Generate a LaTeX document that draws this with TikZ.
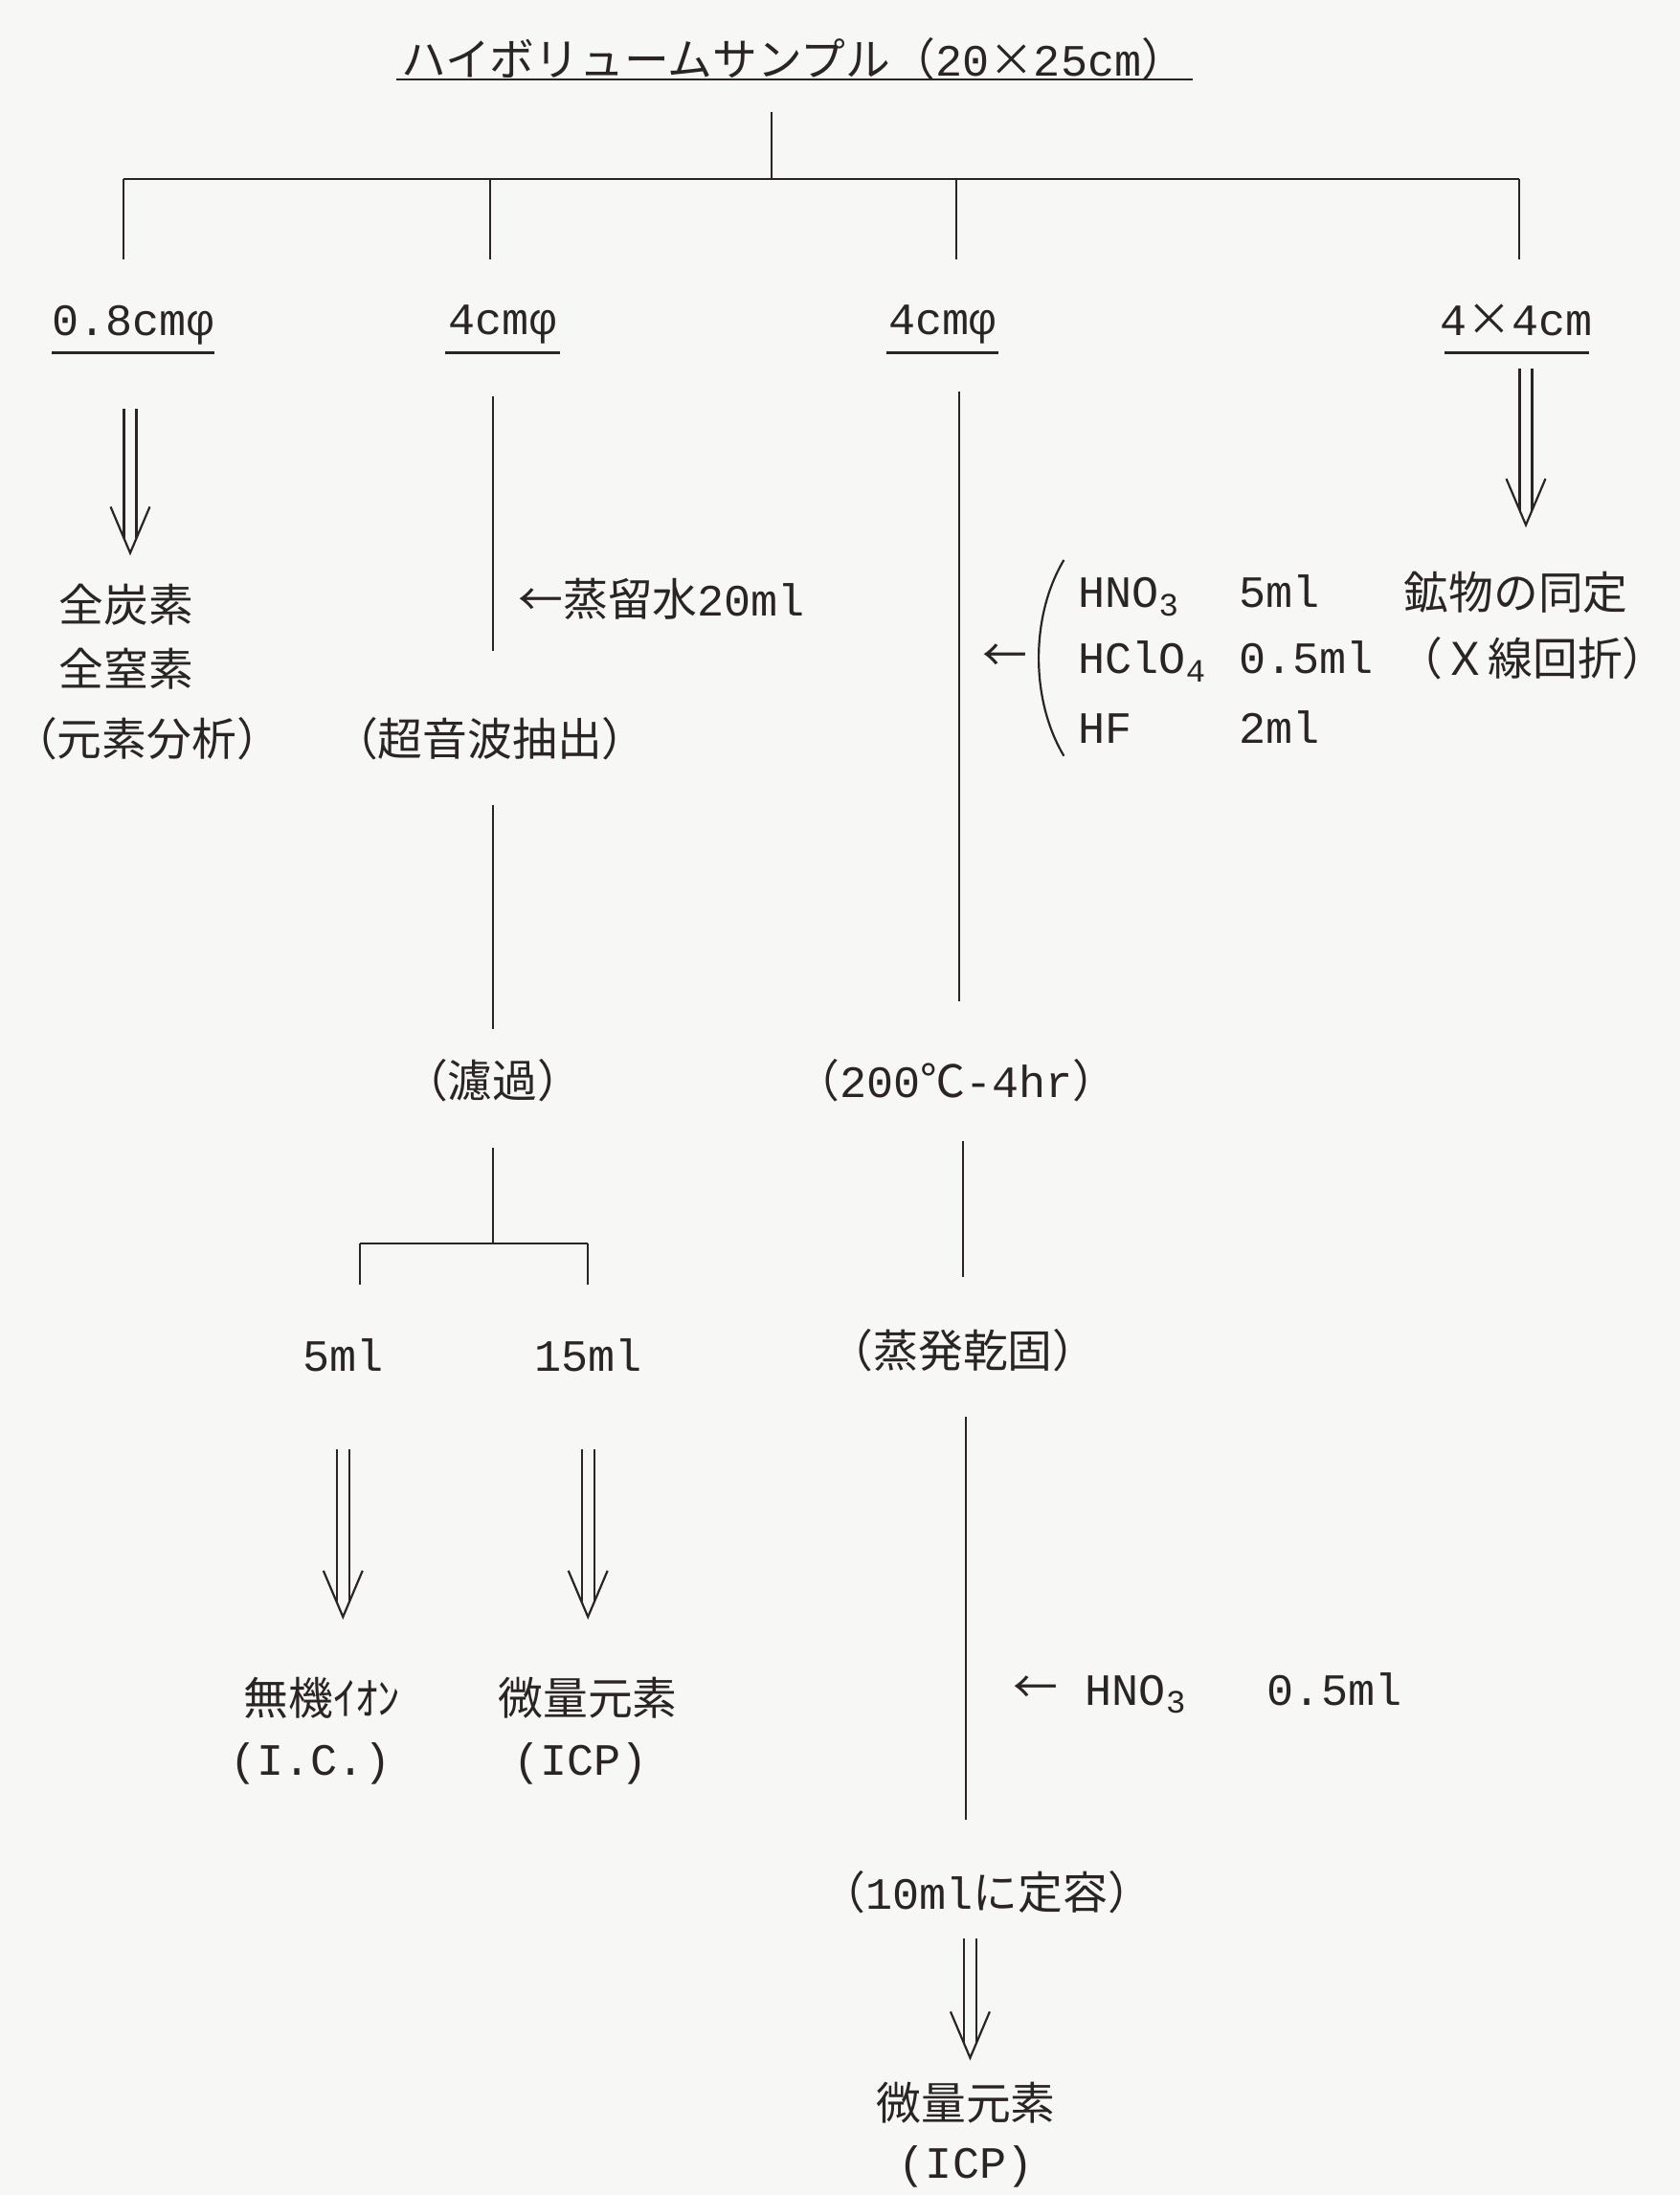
\documentclass[tikz,border=0pt]{standalone}
\usepackage{fontspec}
\setmainfont{Liberation Mono}
\newfontfamily\jp{Noto Sans CJK JP}
\usetikzlibrary{calc}
\definecolor{ink}{HTML}{2A2424}
\definecolor{paper}{HTML}{F7F7F5}
\newcommand\sbs[1]{\raisebox{-0.35ex}{\fontsize{17}{17}\selectfont #1}}
\newcommand\dblarrow[2]{%
  \draw[conn] ($(#1)+(-4.5,0)$) -- ($(#2)+(-4.5,-10.5)$);
  \draw[conn] ($(#1)+(4.5,0)$) -- ($(#2)+(4.5,-10.5)$);
  \draw[conn] ($(#2)+(-14,-33)$) -- (#2) -- ($(#2)+(14,-33)$);}
\begin{document}
\begin{tikzpicture}[x=0.73125pt,y=-0.73125pt,
  t/.style={inner sep=0pt,text=ink,font=\fontsize{23.4}{28}\selectfont},
  conn/.style={draw=ink,line width=1.1pt}]
\path[fill=paper] (0,0) rectangle (1200,1568);
% title
\node[t] (title) at (567,42) {{\jp ハイボリュームサンプル（}20{\jp ×}25cm{\jp ）}};
\draw[conn] (283,57) -- (852,57);
\coordinate (t0) at (551,80);
\coordinate (j0) at (551,128);
\coordinate (b1) at (88,128); \coordinate (b2) at (350,128);
\coordinate (b3) at (683,128); \coordinate (b4) at (1085,128);
\coordinate (d1) at (88,185); \coordinate (d2) at (350,185);
\coordinate (d3) at (683,185); \coordinate (d4) at (1085,185);
\draw[conn] (t0) -- (j0);
\draw[conn] (b1) -- (b4);
\draw[conn] (b1) -- (d1); \draw[conn] (b2) -- (d2);
\draw[conn] (b3) -- (d3); \draw[conn] (b4) -- (d4);
% level 2 labels
\node[t] (l1) at (95,232) {0.8cmφ};
\draw[conn] (37,252) -- (153,252);
\node[t] (l2) at (359,232) {4cmφ};
\draw[conn] (318,252) -- (400,252);
\node[t] (l3) at (673,232) {4cmφ};
\draw[conn] (633,252) -- (713,252);
\node[t] (l4) at (1083,229) {4{\jp ×}4cm};
\draw[conn] (1032,252) -- (1135,252);
% column 1
\coordinate (a1s) at (93,292); \coordinate (a1e) at (93,395);
\dblarrow{a1s}{a1e}
\node[t] (c1a) at (90,432) {\jp 全炭素};
\node[t] (c1b) at (90,478) {\jp 全窒素};
\node[t] (c1c) at (105,528) {\jp （元素分析）};
% column 2
\coordinate (c2s) at (352,283); \coordinate (c2e) at (352,465);
\draw[conn] (c2s) -- (c2e);
\node[t,anchor=west] (water) at (370,428) {{\jp ←蒸留水}20ml};
\node[t] (ultra) at (350,528) {\jp （超音波抽出）};
\coordinate (c2f) at (352,575); \coordinate (c2g) at (352,735);
\draw[conn] (c2f) -- (c2g);
\node[t] (filt) at (352,772) {\jp （濾過）};
\coordinate (c2h) at (352,820); \coordinate (c2j) at (352,888);
\draw[conn] (c2h) -- (c2j);
\coordinate (s1) at (257,888); \coordinate (s2) at (420,888);
\coordinate (s1d) at (257,918); \coordinate (s2d) at (420,918);
\draw[conn] (s1) -- (s2);
\draw[conn] (s1) -- (s1d); \draw[conn] (s2) -- (s2d);
\node[t] (v5) at (245,968) {5ml};
\node[t] (v15) at (420,968) {15ml};
\coordinate (a2s) at (245,1035); \coordinate (a2e) at (245,1155);
\dblarrow{a2s}{a2e}
\coordinate (a3s) at (420,1035); \coordinate (a3e) at (420,1155);
\dblarrow{a3s}{a3e}
\node[t] (ion) at (230,1213) {\jp 無機ｲｵﾝ};
\node[t] (ic) at (222,1260) {(I.C.)};
\node[t] (trace1) at (420,1213) {\jp 微量元素};
\node[t] (icp1) at (415,1260) {(ICP)};
% column 3
\coordinate (c3s) at (685,280); \coordinate (c3e) at (685,715);
\draw[conn] (c3s) -- (c3e);
\node[t] (arr1) at (718,470) {\jp ←};
\draw[conn] (760,400) .. controls (736,440) and (736,500) .. (760,540);
\node[t,anchor=base west] (hno3) at (770,434) {HNO\sbs{3}};
\node[t,anchor=base west] (hno3v) at (885,434) {5ml};
\node[t,anchor=base west] (hclo4) at (770,481) {HClO\sbs{4}};
\node[t,anchor=base west] (hclo4v) at (885,481) {0.5ml};
\node[t,anchor=base west] (hf) at (770,531) {HF};
\node[t,anchor=base west] (hfv) at (885,531) {2ml};
\node[t] (heat) at (683,772) {{\jp （}200{\jp ℃}-4hr{\jp ）}};
\coordinate (c3f) at (688,815); \coordinate (c3g) at (688,912);
\draw[conn] (c3f) -- (c3g);
\node[t] (evap) at (688,965) {\jp （蒸発乾固）};
\coordinate (c3h) at (690,1012); \coordinate (c3j) at (690,1300);
\draw[conn] (c3h) -- (c3j);
\node[t] (arr2) at (740,1207) {\jp ←};
\node[t,anchor=base west] (hno3b) at (775,1218) {HNO\sbs{3}};
\node[t,anchor=base west] (hno3bv) at (905,1218) {0.5ml};
\node[t] (dilute) at (705,1352) {{\jp （}10ml{\jp に定容）}};
\coordinate (a4s) at (693,1385); \coordinate (a4e) at (693,1470);
\dblarrow{a4s}{a4e}
\node[t] (trace2) at (690,1502) {\jp 微量元素};
\node[t] (icp2) at (690,1548) {(ICP)};
% column 4
\coordinate (a5s) at (1090,263); \coordinate (a5e) at (1090,375);
\dblarrow{a5s}{a5e}
\node[t] (min) at (1083,423) {\jp 鉱物の同定};
\node[t] (xrd) at (1095,470) {\jp （Ｘ線回折）};
\end{tikzpicture}
\end{document}
